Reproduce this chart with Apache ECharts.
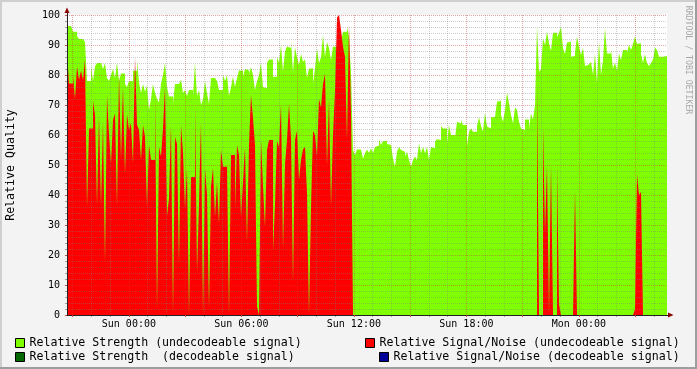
<!DOCTYPE html>
<html><head><meta charset="utf-8">
<script src="https://cdn.jsdelivr.net/npm/echarts@6/dist/echarts.min.js"></script>
<style>html,body{margin:0;padding:0;background:#f3f3f3}#c{width:697px;height:369px}</style>
</head><body><div id="c"></div>
<script>
// time domain in hours relative to Sun 00:00
const startHour = -3.3;
const spanHours = 32;
const tickLabelHours = [0, 6, 12, 18, 24];
const tickLabels = ['Sun 00:00', 'Sun 06:00', 'Sun 12:00', 'Sun 18:00', 'Mon 00:00'];
const seriesNames = [
  'Relative Strength (undecodeable signal)',
  'Relative Signal/Noise (undecodeable signal)',
  'Relative Strength  (decodeable signal)',
  'Relative Signal/Noise (decodeable signal)'
];
// evenly spaced samples across the time span
const strengthUndec = [
 96.3,96.3,96.3,94.4,94.4,93,92,92,91.5,91,
 78,78,83,78,82.8,84,84,84,82,84,
 79,78,80,82,79,84,78,80.5,80.5,77,
 76,78,78,81.4,81.4,85,77.5,74,77,74.4,
 76.5,68.3,72,77,74,72,70.8,77,80,84,
 76,72.8,72.8,70.5,77,77,77,78.3,74,75,
 73,75,75,73,84,73,75,70,72,78,
 74,70.3,79,79,79,78,75,75,80,78,
 80,73,76,79.4,76,79,81.5,81.5,79.5,82,
 81.5,80.5,82.6,80,75,78,80,84,76,75.6,
 84,85.2,85.2,79.4,79.4,86,84.1,90,81.1,87.8,
 89.5,89,91.4,81,89.2,86,83.3,87,84.4,85.2,
 79,82.2,82.2,77.2,82.2,88.9,84,86,93.3,86,
 91,89,85,89.4,89.4,91,91,91,94.4,94.4,
 96,92.8,80.5,55,53.3,55.2,55.2,55.2,52.2,53.9,
 55.2,54,55.6,54,56,56.5,58.6,56.7,58,58,
 57,56.7,56.7,52.2,49.4,54.4,56,55,54.4,52.8,
 54.4,51.7,49.4,51.7,52.8,51.7,57.2,54,56,53.9,
 56,51.7,56,55.6,57.8,58.6,58.3,63,62.2,62.2,
 57,63.3,60,60,59,64.4,63.8,65,63.3,63.3,
 56.3,61.1,62.2,61.1,61.1,63,65.9,63,61.2,67.4,
 62.8,62.2,65.9,66,66,71.1,71.4,66.7,64.4,68.3,
 74.1,70.6,66.7,63.9,69.2,68.3,64.4,62.2,61.7,65.2,
 65.2,61.9,67.2,65.2,70,96.1,81.1,82,92.2,90,
 94.4,90.6,88,94.1,94.1,92.6,94.1,96.1,88.9,87,
 90.8,91.1,86.1,86.3,87.4,92.8,89.4,86.7,89,83,
 83.5,83.3,84.4,80,87,77.4,91.1,80,85,95.6,
 87.2,87.2,88.6,82.2,84.1,81.4,87.2,85,88.3,88.3,
 87.4,90,88.3,90.3,92.8,90.3,90.6,87,84.1,87,
 83.9,83,84,85.2,89.2,88.3,86.1,86.1,86.3,86.3
];
const snrUndec = [
 88,77.2,77.2,80,72,82.8,78.3,81.4,78.3,85.2,
 36,62.2,62.2,71.4,66.7,36.7,66.7,36.7,64.4,17.4,
 73.3,60,50.5,65,67.2,36.3,80,52,76,47,
 67,61.7,64,50.5,86,63.3,61.7,51.7,63.3,59.4,
 36.3,56.7,51.7,51.7,73.9,1.7,56,52.8,62.2,76,
 33,38.9,63.3,0.5,59.4,57,16.7,63.3,53.9,35.5,
 49,0,46,46,70.3,14.4,37.2,64.4,0,49,
 40,2.2,42.8,49,32.8,44.4,30.6,55.2,49.4,49.4,
 49.4,0,53.3,53.3,35.5,56.7,53.3,32.8,44.4,56,
 24.4,56.7,73.3,65.5,56.7,2.8,0,58.3,43,29.4,
 55,58.3,58.3,21.4,37,58,56,70.3,22.2,50.3,
 58.3,70.3,58.9,10.8,58.3,61.4,45,51.7,55.2,56,
 40.6,0,36,61.4,60,53,72,69.2,77,80.3,
 50,72.2,36.3,60.3,74.8,99.2,100,95,89.4,86,
 58.3,97,67.2,0,0,0,0,0,0,0,
 0,0,0,0,0,0,0,0,0,0,
 0,0,0,0,0,0,0,0,0,0,
 0,0,0,0,0,0,0,0,0,0,
 0,0,0,0,0,0,0,0,0,0,
 0,0,0,0,0,0,0,0,0,0,
 0,0,0,0,0,0,0,0,0,0,
 0,0,0,0,0,0,0,0,0,0,
 0,0,0,0,0,0,0,0,0,0,
 0,0,0,0,0,77,0,0,63,27.6,
 50,0,50,0,0,50,3.5,0,0,0,
 0,0,0,0,41.6,0,0,0,0,0,
 0,0,0,0,0,0,0,0,0,0,
 0,0,0,0,0,0,0,0,0,0,
 0,0,0,0,2,47,40,41,0,0,
 0,0,0,0,0,0,0,0,0,0
];
const strengthDec = [];
const snrDec = [];

const xMin = startHour, xMax = startHour + spanHours;
// each sample holds its value over its own time slot
function toStep(vals) {
  const n = vals.length; if (!n) return [];
  const step = spanHours / n;
  const out = [];
  vals.forEach((v, i) => {
    out.push([startHour + i * step, v]);
    out.push([startHour + (i + 1) * step, v]);
  });
  return out;
}
const majorHours = [], minorHours = [];
for (let h = Math.ceil(xMin); h <= Math.floor(xMax); h++) {
  if (h % 3 === 0) majorHours.push(h); else minorHours.push(h);
}
const mono = 'DejaVu Sans Mono';
const majorGrid = 'rgba(200,60,60,0.45)';
const minorGrid = 'rgba(128,128,128,0.4)';
const colors = ['#80ff00', '#ff0000', '#006600', '#000099'];
const dataSets = [strengthUndec, snrUndec, strengthDec, snrDec];

const chart = echarts.init(document.getElementById('c'), null, {renderer: 'canvas'});
const legendCommon = {
  orient: 'horizontal', padding: 0, itemWidth: 9, itemHeight: 9, icon: 'rect',
  selectedMode: false,
  textStyle: {fontFamily: mono, fontSize: 11.6, color: '#000'},
  itemStyle: {borderColor: '#000', borderWidth: 1}
};
const option = {
  animation: false,
  backgroundColor: '#f3f3f3',
  grid: {left: 67, right: 30, top: 15, bottom: 54, show: true, backgroundColor: '#fff', borderWidth: 0,
         containLabel: false, outerBoundsMode: 'none'},
  legend: [
    Object.assign({data: [seriesNames[0]], left: 15, top: 337}, legendCommon),
    Object.assign({data: [seriesNames[1]], left: 365, top: 337}, legendCommon),
    Object.assign({data: [seriesNames[2]], left: 15, top: 351}, legendCommon),
    Object.assign({data: [seriesNames[3]], left: 379, top: 351}, legendCommon)
  ],
  xAxis: [
    {
      type: 'value', min: xMin, max: xMax, position: 'bottom', z: 4,
      axisLine: {show: true, onZero: false, lineStyle: {color: '#222', width: 1}},
      axisTick: {show: true, customValues: majorHours, length: 2, lineStyle: {color: 'rgba(200,60,60,0.9)'}},
      axisLabel: {
        customValues: tickLabelHours, margin: 4, fontFamily: mono, fontSize: 10, color: '#000',
        formatter: v => tickLabels[tickLabelHours.indexOf(Math.round(v))] || ''
      },
      splitLine: {show: true, lineStyle: {color: majorGrid, type: [1, 1], width: 1}}
    },
    {
      type: 'value', min: xMin, max: xMax, position: 'bottom', z: 3,
      axisLine: {show: false, onZero: false}, axisLabel: {show: false},
      axisTick: {show: true, customValues: minorHours, length: 2, lineStyle: {color: 'rgba(128,128,128,0.7)'}},
      splitLine: {show: true, lineStyle: {color: minorGrid, type: [1, 1], width: 1}}
    }
  ],
  yAxis: {
    type: 'value', min: 0, max: 100, interval: 10, z: 4,
    axisLine: {show: true, onZero: false, lineStyle: {color: '#222', width: 1}},
    axisTick: {show: true, length: 2, lineStyle: {color: 'rgba(200,60,60,0.9)'}},
    minorTick: {show: true, splitNumber: 5, length: 2, lineStyle: {color: 'rgba(128,128,128,0.7)'}},
    splitLine: {show: true, lineStyle: {color: majorGrid, type: [1, 1], width: 1}},
    minorSplitLine: {show: true, lineStyle: {color: minorGrid, type: [1, 1], width: 1}},
    axisLabel: {fontFamily: mono, fontSize: 10, color: '#000', margin: 7},
    name: 'Relative Quality', nameLocation: 'middle', nameGap: 50,
    nameTextStyle: {fontFamily: mono, fontSize: 11.6, color: '#000'}
  },
  series: seriesNames.map((name, k) => ({
    name, type: 'line', xAxisIndex: 0, yAxisIndex: 0,
    data: toStep(dataSets[k]), symbol: 'none', showSymbol: false, silent: true, z: 1,
    lineStyle: {width: 0, opacity: 0},
    itemStyle: {color: colors[k]},
    areaStyle: {color: colors[k], opacity: 1}
  }))
};
chart.setOption(option);

const pEnd = chart.convertToPixel({xAxisIndex: 0, yAxisIndex: 0}, [xMax, 0]);
const pTop = chart.convertToPixel({xAxisIndex: 0, yAxisIndex: 0}, [xMin, 100]);
const W = 697, H = 369;
const arrowCol = '#8b0000';
chart.setOption({
  graphic: [
    {type: 'rect', shape: {x: 0, y: 0, width: W, height: 2}, style: {fill: '#cfcfcf'}, z: 100},
    {type: 'rect', shape: {x: 0, y: 0, width: 2, height: H}, style: {fill: '#cfcfcf'}, z: 100},
    {type: 'rect', shape: {x: 0, y: H - 2, width: W, height: 2}, style: {fill: '#9e9e9e'}, z: 101},
    {type: 'rect', shape: {x: W - 2, y: 0, width: 2, height: H}, style: {fill: '#9e9e9e'}, z: 101},
    {type: 'text', x: 688, y: 60, rotation: -Math.PI / 2, z: 100,
     style: {text: 'RRDTOOL / TOBI OETIKER', fill: '#a8a8a8', fontFamily: mono, fontSize: 8.2, align: 'center', verticalAlign: 'middle'}},
    {type: 'line', shape: {x1: Math.round(pEnd[0]), y1: Math.round(pEnd[1]) + 0.5, x2: pEnd[0] + 4, y2: Math.round(pEnd[1]) + 0.5}, style: {stroke: '#222', lineWidth: 1}, z: 100},
    {type: 'polygon', shape: {points: [[pEnd[0] + 1, pEnd[1] - 2.5], [pEnd[0] + 6.5, pEnd[1]], [pEnd[0] + 1, pEnd[1] + 2.5]]}, style: {fill: arrowCol}, z: 100},
    {type: 'line', shape: {x1: Math.round(pTop[0]) + 0.5, y1: pTop[1], x2: Math.round(pTop[0]) + 0.5, y2: pTop[1] - 3}, style: {stroke: '#222', lineWidth: 1}, z: 100},
    {type: 'polygon', shape: {points: [[pTop[0] - 2.5, pTop[1] - 2], [pTop[0], pTop[1] - 7.5], [pTop[0] + 2.5, pTop[1] - 2]]}, style: {fill: arrowCol}, z: 100}
  ]
});
</script>
</body></html>
